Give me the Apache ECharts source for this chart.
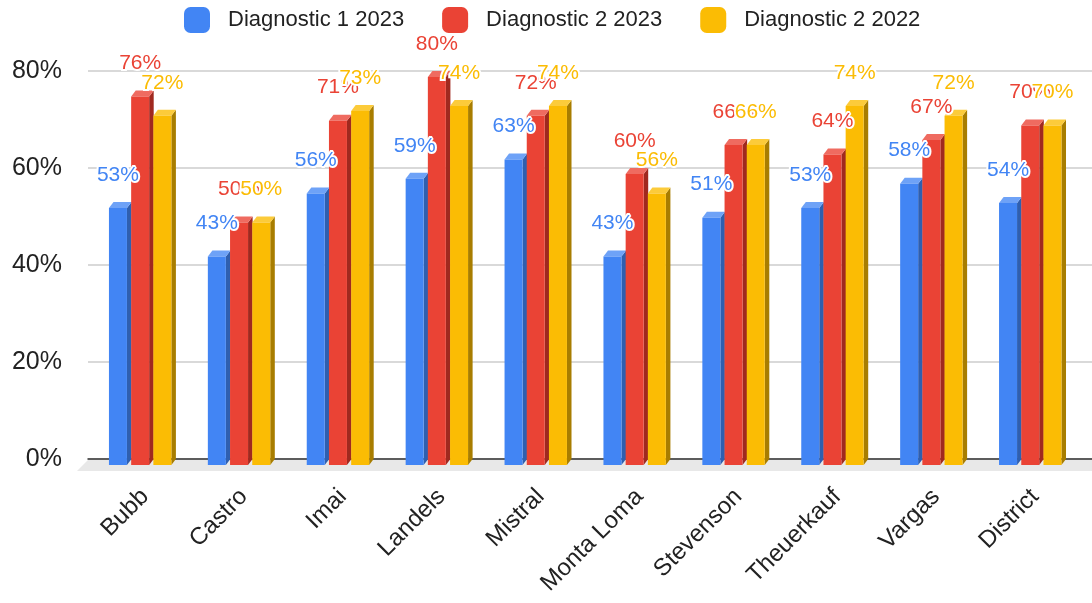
<!DOCTYPE html>
<html>
<head>
<meta charset="utf-8">
<title>Diagnostic results by school</title>
<script src="https://cdn.jsdelivr.net/npm/echarts@6/dist/echarts.min.js"></script>
<style>
  html, body { margin: 0; padding: 0; background: #fff; }
  #chart { width: 1092px; height: 603px; }
</style>
</head>
<body>
<div id="chart"></div>
<script>
// Schools along the horizontal axis
const categories = ['Bubb', 'Castro', 'Imai', 'Landels', 'Mistral', 'Monta Loma', 'Stevenson', 'Theuerkauf', 'Vargas', 'District'];

// Percent of students meeting standard
const diag1_2023 = [53, 43, 56, 59, 63, 43, 51, 53, 58, 54];
const diag2_2023 = [76, 50, 71, 80, 72, 60, 66, 64, 67, 70];
const diag2_2022 = [72, 50, 73, 74, 74, 56, 66, 74, 72, 70];

const seriesNames = ['Diagnostic 1 2023', 'Diagnostic 2 2023', 'Diagnostic 2 2022'];

// Value axis ticks
const yTicks = [0, 20, 40, 60, 80];

const FONT = '"Liberation Sans", Arial, Helvetica, sans-serif';

// Face colours for each series: front, side (shaded), top (lit)
const palette = [
  { front: '#4285F4', side: '#2F5FAF', top: '#6EA2F7' },
  { front: '#EA4335', side: '#A0291F', top: '#EF6B60' },
  { front: '#FBBC04', side: '#A87D00', top: '#FCCB3A' }
];

const seriesValues = [diag1_2023, diag2_2023, diag2_2022];

// Pseudo-3D bar geometry, expressed relative to the category band
function barGeom(api, k) {
  const i = api.value(0);
  const v = api.value(1);
  const top = api.coord([i, v]);
  const base = api.coord([i, 0]);
  const band = api.size([1, 0])[0];
  const slot = band * 0.2245;
  const fw = band * 0.182;
  const dx = band * 0.046;
  const dy = 6;
  const x0 = top[0] - band * 0.364 + slot * k;
  return { top: top[1], base: base[1], x0, fw, dx, dy };
}

function makeBarRenderer(k) {
  const c = palette[k];
  return function (params, api) {
    const g = barGeom(api, k);
    const ft = g.top + g.dy;
    const fb = g.base + g.dy;
    return {
      type: 'group',
      children: [
        {
          type: 'polygon',
          shape: { points: [[g.x0 + g.fw, ft], [g.x0 + g.fw + g.dx, g.top], [g.x0 + g.fw + g.dx, g.base], [g.x0 + g.fw, fb]] },
          style: { fill: c.side }
        },
        {
          type: 'polygon',
          shape: { points: [[g.x0, ft], [g.x0 + g.dx, g.top], [g.x0 + g.fw + g.dx, g.top], [g.x0 + g.fw, ft]] },
          style: { fill: c.top }
        },
        {
          type: 'rect',
          shape: { x: g.x0, y: ft, width: g.fw, height: fb - ft },
          style: { fill: c.front }
        }
      ]
    };
  };
}

function makeLabelRenderer(k) {
  const c = palette[k];
  return function (params, api) {
    const g = barGeom(api, k);
    return {
      type: 'text',
      style: {
        text: api.value(1) + '%',
        x: g.x0 + g.fw / 2,
        y: g.top - 27,
        font: '21px ' + FONT,
        fill: c.front,
        stroke: '#ffffff',
        lineWidth: 4,
        align: 'center',
        verticalAlign: 'middle',
        textAlign: 'center',
        textVerticalAlign: 'middle'
      }
    };
  };
}

// Light grey floor strip under the baseline
function renderFloor(params, api) {
  const cs = params.coordSys;
  const base = api.coord([0, 0])[1];
  return {
    type: 'polygon',
    shape: {
      points: [[cs.x, base + 1], [cs.x + cs.width, base + 1], [cs.x + cs.width, base + 12], [cs.x - 11, base + 12]]
    },
    style: { fill: '#E8E8E8' },
    silent: true
  };
}

const series = [
  {
    type: 'custom',
    name: 'floor',
    xAxisIndex: 0,
    yAxisIndex: 0,
    renderItem: renderFloor,
    data: [[0, 0]],
    silent: true,
    z: 1
  }
];

seriesValues.forEach(function (vals, k) {
  series.push({
    type: 'custom',
    name: seriesNames[k],
    xAxisIndex: 1,
    yAxisIndex: 1,
    itemStyle: { color: palette[k].front },
    renderItem: makeBarRenderer(k),
    encode: { x: 0, y: 1 },
    data: vals.map(function (v, i) { return [i, v]; }),
    clip: false,
    z: 2
  });
});

seriesValues.forEach(function (vals, k) {
  series.push({
    type: 'custom',
    name: seriesNames[k],
    xAxisIndex: 1,
    yAxisIndex: 1,
    itemStyle: { color: palette[k].front },
    renderItem: makeLabelRenderer(k),
    encode: { x: 0, y: 1 },
    data: vals.map(function (v, i) { return [i, v]; }),
    clip: false,
    z: 5
  });
});

const chart = echarts.init(document.getElementById('chart'), null, { renderer: 'canvas' });

chart.setOption({
  animation: false,
  backgroundColor: '#ffffff',
  textStyle: { fontFamily: FONT },
  legend: {
    data: seriesNames,
    left: 184,
    top: 7,
    padding: 0,
    icon: 'roundRect',
    itemWidth: 26,
    itemHeight: 26,
    itemGap: 38,
    textStyle: { fontSize: 22, color: '#222222', fontFamily: FONT, padding: [0, 0, 0, 13] }
  },
  grid: [
    { left: 88, right: 0, top: 71, bottom: 144 },
    { left: 95.5, right: 7.5, top: 71, bottom: 144 }
  ],
  xAxis: [
    {
      gridIndex: 0,
      type: 'value',
      min: 0,
      max: 1,
      axisLabel: { show: false },
      axisTick: { show: false },
      splitLine: { show: false },
      axisLine: { show: true, onZero: false, lineStyle: { color: '#333333', width: 1.5 } }
    },
    {
      gridIndex: 1,
      type: 'category',
      data: categories,
      axisLine: { show: false },
      axisTick: { show: false },
      axisLabel: {
        rotate: 45,
        interval: 0,
        margin: 34,
        fontSize: 24,
        color: '#222222',
        fontFamily: FONT
      }
    }
  ],
  yAxis: [
    {
      gridIndex: 0,
      type: 'value',
      min: yTicks[0],
      max: yTicks[yTicks.length - 1],
      interval: yTicks[1] - yTicks[0],
      axisLine: { show: false },
      axisTick: { show: false },
      axisLabel: {
        formatter: '{value}%',
        fontSize: 25,
        color: '#222222',
        margin: 26,
        fontFamily: FONT
      },
      splitLine: { lineStyle: { color: '#CCCCCC', width: 1.5 } }
    },
    {
      gridIndex: 1,
      type: 'value',
      min: yTicks[0],
      max: yTicks[yTicks.length - 1],
      interval: yTicks[1] - yTicks[0],
      show: false,
      splitLine: { show: false }
    }
  ],
  series: series
});
</script>
</body>
</html>
